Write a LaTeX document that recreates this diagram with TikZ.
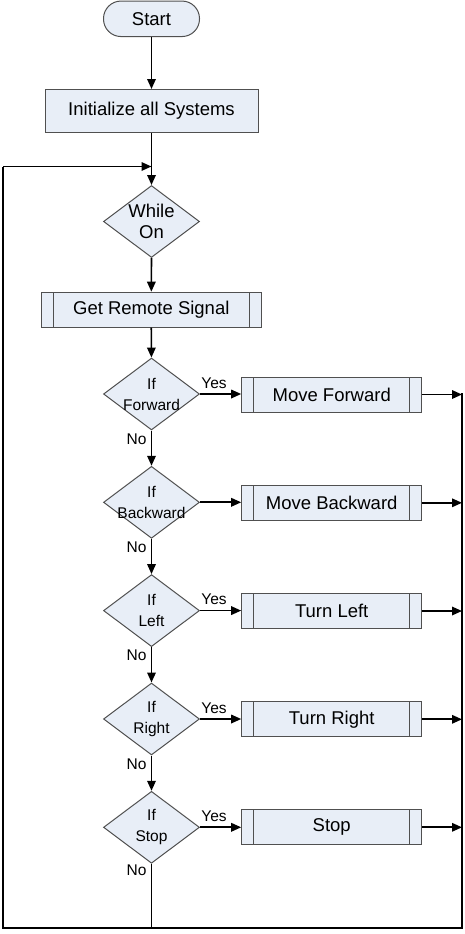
\documentclass[tikz,border=0pt]{standalone}
\usepackage{fontspec}
\setmainfont{Liberation Sans}
\usetikzlibrary{arrows.meta,shapes.geometric}
\definecolor{boxfill}{RGB}{232,238,247}
\definecolor{bordergray}{RGB}{80,80,80}
\begin{document}
\begin{tikzpicture}[x=1pt,y=-1pt,
  shapebase/.style={draw=bordergray, fill=boxfill, line width=1pt, inner sep=0pt},
  bigtext/.style={font=\fontsize{18.5}{21}\selectfont, align=center},
  smalltext/.style={font=\fontsize{15.5}{21}\selectfont, align=center, inner sep=0pt},
  term/.style={shapebase, bigtext, rectangle, rounded corners=17.5pt, minimum width=96pt, minimum height=35.5pt},
  procbox/.style={shapebase, bigtext, rectangle, minimum width=213pt, minimum height=43pt},
  dec/.style={shapebase, diamond, minimum width=96pt, minimum height=72pt},
  predef/.style={shapebase, bigtext, rectangle, minimum width=#1, minimum height=35pt,
    path picture={
      \draw[bordergray, line width=1pt] ([xshift=12pt]path picture bounding box.north west) -- ([xshift=12pt]path picture bounding box.south west);
      \draw[bordergray, line width=1pt] ([xshift=-12pt]path picture bounding box.north east) -- ([xshift=-12pt]path picture bounding box.south east);
    }},
  predef/.default=180pt,
  conn/.style={line width=1.7pt, black},
  arr/.style={conn, -{Triangle[length=10pt,width=8.5pt]}},
  lbl/.style={font=\fontsize{15.5}{18}\selectfont, inner sep=0pt, anchor=base}
]
\useasboundingbox (0,0) rectangle (465,934);

% main column
\node[term] (start) at (151.5,18.8) {Start};
\node[procbox] (init) at (151.5,111) {Initialize all Systems};
\node[dec] (while) at (151.5,221.5) {};
\node[bigtext, inner sep=0pt] (whilet) at (151.5,221.5) {While\\On};
\node[predef=219.5pt] (get) at (151.3,309.7) {Get Remote Signal};

\node[dec] (dF) at (151.5,394) {};
\node[smalltext] (dFt) at (151.5,394) {If\\Forward};
\node[dec] (dB) at (151.5,502.3) {};
\node[smalltext] (dBt) at (151.5,502.3) {If\\Backward};
\node[dec] (dL) at (151.5,610.6) {};
\node[smalltext] (dLt) at (151.5,610.6) {If\\Left};
\node[dec] (dR) at (151.5,719) {};
\node[smalltext] (dRt) at (151.5,719) {If\\Right};
\node[dec] (dS) at (151.5,827.3) {};
\node[smalltext] (dSt) at (151.5,827.3) {If\\Stop};

% action boxes
\node[predef] (mF) at (331.7,394.5) {Move Forward};
\node[predef] (mB) at (331.7,502.8) {Move Backward};
\node[predef] (mL) at (331.7,611) {Turn Left};
\node[predef] (mR) at (331.7,719.3) {Turn Right};
\node[predef] (mS) at (331.7,827.3) {Stop};

% helper coordinates
\coordinate (busTop) at (462,393);
\coordinate (busBot) at (462,928);
\coordinate (loopBL) at (3,928);
\coordinate (loopTL) at (3,166.5);
\coordinate (join) at (151.5,166.5);

% main flow
\draw[arr] (start) -- (init);
\draw[arr] (init) -- (while);
\draw[arr] (while) -- (get);
\draw[arr] (get) -- (dF);
\draw[arr] (dF) -- (dB);
\draw[arr] (dB) -- (dL);
\draw[arr] (dL) -- (dR);
\draw[arr] (dR) -- (dS);

% yes branches
\draw[arr] (dF.east) -- (mF.west |- dF.east);
\draw[arr] (dB.east) -- (mB.west |- dB.east);
\draw[arr] (dL.east) -- (mL.west |- dL.east);
\draw[arr] (dR.east) -- (mR.west |- dR.east);
\draw[arr] (dS.east) -- (mS.west |- dS.east);

% to bus
\draw[arr] (mF.east) -- (mF.east -| busTop);
\draw[arr] (mB.east) -- (mB.east -| busTop);
\draw[arr] (mL.east) -- (mL.east -| busTop);
\draw[arr] (mR.east) -- (mR.east -| busTop);
\draw[arr] (mS.east) -- (mS.east -| busTop);

% loop back
\draw[conn, line join=miter] (busTop) -- (busBot) -- (loopBL) -- (loopTL);
\draw[arr] (loopTL) -- (join);
\draw[conn] (dS.south) -- (dS.south |- busBot);

% labels
\node[lbl] (yF) at (214,388.5) {Yes};
\node[lbl] (yL) at (214,604.8) {Yes};
\node[lbl] (yR) at (214,713.2) {Yes};
\node[lbl] (yS) at (214,821.5) {Yes};
\node[lbl] (nF) at (136.5,444) {No};
\node[lbl] (nB) at (136.5,552.3) {No};
\node[lbl] (nL) at (136.5,660.6) {No};
\node[lbl] (nR) at (136.5,769) {No};
\node[lbl] (nS) at (136.5,875) {No};
\end{tikzpicture}
\end{document}
